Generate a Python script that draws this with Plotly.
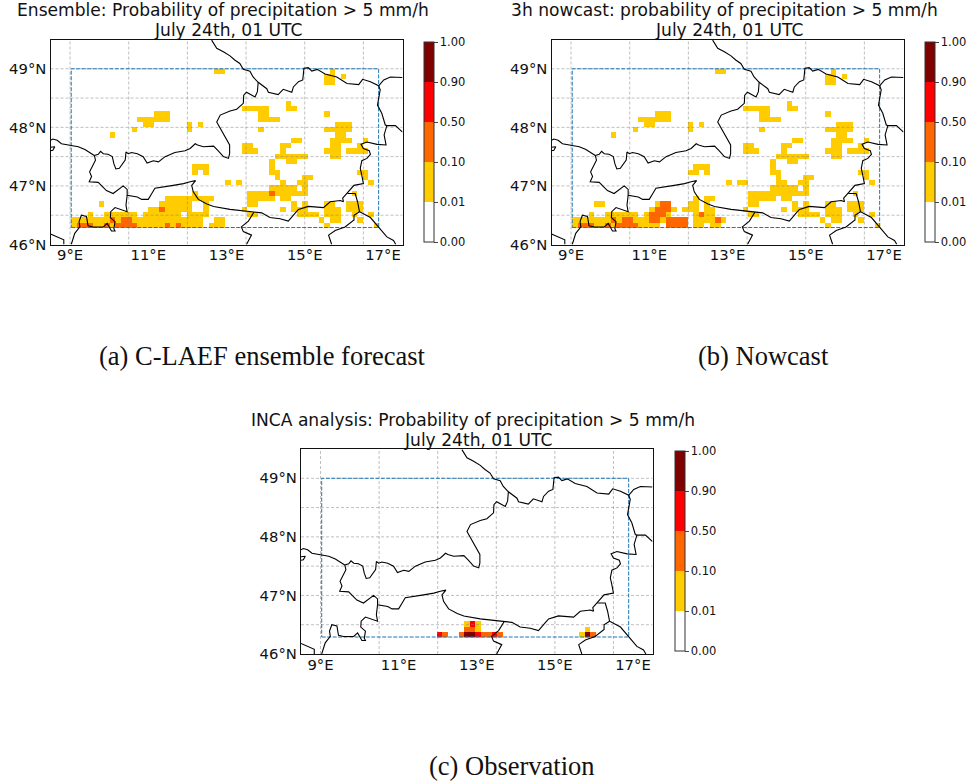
import numpy as np
import plotly.graph_objects as go

# --- colour classes -------------------------------------------------------
level_labels = ["0.00", "0.01", "0.10", "0.50", "0.90", "1.00"]
level_colors = ["#FFFFFF", "#FFCC00", "#FF6600", "#FF0000", "#800000"]

# --- grid of the forecast domain ------------------------------------------
n_rows, n_cols = 30, 56
lon0, dlon = 9.03, 0.1404
lat0, dlat = 46.29, 0.0903

# (row, first column, last column) of cells in each class
common_yellow = [
    (29,47,47),(28,46,47),(28,49,49),(27,46,47),(23,39,39),(22,31,35),(22,39,40),(21,34,35),(21,46,46),
    (20,34,37),(19,48,50),(18,34,34),(18,46,50),(17,48,49),(16,40,41),(16,47,50),(16,53,53),(15,31,32),
    (15,38,39),(15,47,48),(15,52,52),(14,31,33),(14,38,38),(14,46,48),(14,50,53),(13,37,42),(13,47,48),
    (12,36,36),(12,39,40),(11,36,36),(10,36,37),(10,52,53),(9,37,37),(9,42,43),(9,53,53),(8,41,42),
    (8,54,54),(7,36,40),(7,42,42),(6,32,42),(6,51,51),(5,32,36),(5,38,39),(4,32,33),(4,40,40),(4,42,42),
    (4,46,47),(4,50,52),(3,31,31),(3,38,38),(3,40,42),(3,46,48),(3,50,52),(2,32,33),(2,41,44),(2,46,48),
    (2,51,51),(2,54,54),(1,45,45),(1,47,48),(1,52,52),(0,46,46),(0,55,55),
    (29,26,27),(21,15,17),(20,12,17),(19,13,14),(19,21,21),(19,23,23),(18,11,11),(18,21,21),(17,7,7),
    (11,22,24),(8,28,28),(8,30,30),
]
ensemble_yellow = [
    (10,22,22),(10,24,24),(8,38,38),(6,22,22),(5,17,25),(4,5,5),(4,16,21),(4,24,24),(3,14,21),(3,24,24),
    (2,3,3),(2,6,11),(2,13,19),(2,21,24),(1,0,23),(1,26,27),(0,0,23),(0,25,27),
]
ensemble_orange = [(3,16,16),(6,36,36),(1,7,7),(1,9,10),(0,1,3),(0,6,6),(0,8,11),(0,17,17),(0,19,19)]
nowcast_yellow = [
    (10,21,22),(10,24,24),(8,31,31),(8,37,38),(5,22,22),(5,24,25),(4,4,5),(4,15,15),(4,21,22),(4,24,24),
    (3,14,14),(3,18,18),(3,20,22),(3,24,25),(2,3,3),(2,6,11),(2,13,13),(2,17,17),(2,22,25),(1,0,13),
    (1,16,16),(1,22,25),(1,27,27),(0,0,15),(0,22,23),(0,25,26),
]
nowcast_orange = [(4,16,17),(3,15,17),(2,14,16),(2,23,23),(1,7,7),(1,9,10),(1,14,15),(1,17,20),(1,26,26),
                  (0,1,3),(0,6,6),(0,8,11),(0,17,20)]
analysis_yellow = [(2,26,26),(2,28,28),(1,28,28),(0,47,47),(1,48,48)]
analysis_orange = [(0,22,22),(0,25,25),(1,26,27),(0,29,30),(0,32,32),(0,49,49)]
analysis_red = [(0,21,21),(0,28,28),(2,27,27),(0,31,31)]
analysis_dark = [(0,26,27),(0,48,48)]

# --- borders, lon/lat -----------------------------------------------------
border_north = [(12.62,49.49),(12.75,49.35),(12.92,49.29),(13.09,49.22),(13.21,49.15),(13.34,49.09),(13.43,48.99),
    (13.60,48.96),(13.68,48.86),(13.81,48.77),(14.03,48.66),(14.07,48.60),(14.32,48.56),(14.45,48.65),(14.67,48.60),
    (14.71,48.69),(14.84,48.78),(14.95,48.81),(14.98,49.01),(15.09,49.02),(15.18,48.96),(15.32,48.99),(15.52,48.91),
    (15.82,48.86),(16.08,48.75),(16.38,48.73),(16.48,48.82),(16.68,48.78),(16.89,48.71),(16.93,48.64),(16.89,48.49),
    (16.86,48.38),(16.97,48.24),(17.06,48.04),(17.10,48.03),(17.32,48.03),(17.5,47.92)]
border_czech_slovak = [(16.89,48.71),(17.02,48.81),(17.19,48.86),(17.5,48.85)]
border_east_south = [(17.10,48.03),(17.03,47.87),(17.08,47.70),(16.85,47.71),(16.59,47.75),(16.44,47.71),(16.50,47.64),
    (16.65,47.60),(16.68,47.54),(16.59,47.47),(16.46,47.43),(16.42,47.30),(16.46,47.18),(16.50,47.04),(16.26,47.01),
    (16.09,46.87),(15.97,46.79),(15.99,46.73),(15.91,46.75),(15.65,46.73),(15.48,46.63),(15.09,46.65),(14.84,46.60),
    (14.75,46.53),(14.58,46.40),(14.37,46.44),(14.11,46.46),(13.90,46.54),(13.60,46.56),(13.34,46.59),(13.09,46.60),
    (12.67,46.65),(12.5,46.69),(12.28,46.77),(12.15,46.90),(12.11,47.01),(12.21,47.09),(12.07,47.07),(11.90,47.04),
    (11.64,47.01),(11.38,46.98),(11.17,46.96),(11.09,46.87),(11.0,46.77),(10.83,46.77),(10.72,46.81),(10.46,46.84),
    (10.46,46.94),(10.36,47.0),(10.23,46.93),(10.10,46.87),(9.93,46.92),(9.85,46.98),(9.72,47.06),(9.49,47.07),
    (9.55,47.16),(9.50,47.24),(9.55,47.30),(9.65,47.44),(9.62,47.52)]
border_inn_salzach = [(9.62,47.52),(9.72,47.54),(9.78,47.59),(9.85,47.55),(9.97,47.54),(10.08,47.50),(10.12,47.38),
    (10.17,47.29),(10.26,47.30),(10.36,47.38),(10.41,47.44),(10.43,47.58),(10.49,47.55),(10.57,47.57),(10.72,47.55),
    (10.87,47.50),(10.97,47.39),(11.13,47.43),(11.26,47.41),(11.43,47.50),(11.56,47.54),(11.68,47.57),(11.94,47.60),
    (12.07,47.64),(12.2,47.72),(12.26,47.70),(12.41,47.67),(12.67,47.68),(12.79,47.60),(12.92,47.50),(13.05,47.47),
    (13.08,47.55),(13.08,47.70),(12.94,47.87),(12.75,48.09),(12.84,48.21),(13.09,48.28),(13.26,48.31),(13.43,48.41),
    (13.44,48.55),(13.51,48.60),(13.73,48.52),(13.79,48.61),(13.81,48.77)]
border_west = [(9.62,47.52),(9.55,47.55),(9.38,47.62),(9.21,47.67),(9.03,47.69),(8.91,47.70),(8.78,47.72),(8.67,47.78),(8.56,47.80),(8.5,47.78)]
border_lake = [(8.5,47.66),(8.61,47.67),(8.56,47.61),(8.5,47.60)]
border_italy_swiss = [(10.46,46.84),(10.43,46.67),(10.46,46.56),(10.32,46.59),(10.15,46.63),(10.04,46.56),(10.03,46.46),
    (10.15,46.39),(10.12,46.27),(10.15,46.23),(10.06,46.23),(9.95,46.36),(9.85,46.30),(9.59,46.30),(9.46,46.32),
    (9.42,46.48),(9.29,46.50),(9.23,46.39),(9.25,46.30),(9.12,46.19),(9.03,46.0)]
border_southwest = [(8.5,46.18),(8.69,46.12),(8.84,46.08),(8.84,46.0)]
border_hungary = [(16.09,46.87),(16.29,46.87),(16.35,46.73),(16.40,46.56),(16.68,46.46),(16.89,46.30),(17.10,46.13),(17.27,46.07),(17.33,46.0)]
border_croatia = [(16.40,46.56),(16.26,46.50),(16.26,46.42),(16.03,46.30),(15.78,46.24),(15.61,46.16),(15.69,46.0)]
border_slovenia = [(13.70,46.55),(13.56,46.40),(13.38,46.30),(13.43,46.22),(13.64,46.16),(13.51,46.0)]
borders = [border_north, border_czech_slovak, border_east_south, border_inn_salzach, border_west, border_lake,
           border_italy_swiss, border_southwest, border_hungary, border_croatia, border_slovenia]

# --- axes content ---------------------------------------------------------
lon_ticks = [9, 11, 13, 15, 17]
lat_ticks = [46, 47, 48, 49]
lon_grid = [9, 10.5, 12, 13.5, 15, 16.5]
lat_grid = [46.5, 47, 47.5, 48, 48.5, 49]
lon_box = [9.03, 16.89, 16.89, 9.03, 9.03]
lat_box = [46.29, 46.29, 49.0, 49.0, 46.29]

title_lines = ["Ensemble: Probability of precipitation > 5 mm/h",
               "3h nowcast: probability of precipitation > 5 mm/h",
               "INCA analysis: Probability of precipitation > 5 mm/h"]
subtitle = "July 24th, 01 UTC"
captions = ["(a) C-LAEF ensemble forecast", "(b) Nowcast", "(c) Observation"]

W, H = 971, 784
panels = [
    dict(left=50.5, right=402.5, top=39.5, bottom=244.5, cbx=424, cby=42, cap=(262, 356)),
    dict(left=551.5, right=903.5, top=39.5, bottom=244.5, cbx=925, cby=42, cap=(763, 356)),
    dict(left=301, right=652.5, top=449, bottom=654, cbx=674.5, cby=451, cap=(512, 766)),
]

def paint(*class_runs):
    z = np.full((n_rows, n_cols), np.nan)
    for level, runs in class_runs:
        for row, first, last in runs:
            z[row, first:last + 1] = level + 0.5
    return z

fields = [
    paint((1, common_yellow), (1, ensemble_yellow), (2, ensemble_orange)),
    paint((1, common_yellow), (1, nowcast_yellow), (2, nowcast_orange)),
    paint((1, analysis_yellow), (2, analysis_orange), (3, analysis_red), (4, analysis_dark)),
]

stops = []
for i, c in enumerate(level_colors):
    stops += [[i / 5, c], [(i + 1) / 5, c]]

lons = lon0 + (np.arange(n_cols) + 0.5) * dlon
lats = lat0 + (np.arange(n_rows) + 0.5) * dlat

fig = go.Figure()
annotations = []
for i, (p, z) in enumerate(zip(panels, fields)):
    ax = "" if i == 0 else str(i + 1)
    xa, ya = f"x{ax}", f"y{ax}"
    fig.add_trace(go.Heatmap(
        x=lons, y=lats, z=z, xaxis=xa, yaxis=ya, zmin=0, zmax=5, colorscale=stops, hoverongaps=False,
        colorbar=dict(x=p["cbx"] / W, xanchor="left", y=1 - p["cby"] / H, yanchor="top", len=200, lenmode="pixels",
                      thickness=10, thicknessmode="pixels", xpad=0, ypad=0, outlinewidth=1, outlinecolor="#333",
                      tickmode="array", tickvals=list(range(6)), ticktext=level_labels, ticks="outside",
                      ticklen=3.5, tickwidth=1, tickfont=dict(family="DejaVu Sans", size=11.5, color="#111")),
    ))
    gx, gy = [], []
    for g in lon_grid:
        gx += [g, g, None]; gy += [46, 49.5, None]
    for g in lat_grid:
        gx += [8.5, 17.5, None]; gy += [g, g, None]
    fig.add_trace(go.Scatter(x=gx, y=gy, xaxis=xa, yaxis=ya, mode="lines", showlegend=False, hoverinfo="skip",
                             line=dict(color="rgba(128,128,128,0.5)", width=1, dash="3px,2px")))
    fig.add_trace(go.Scatter(x=lon_box, y=lat_box, xaxis=xa, yaxis=ya, mode="lines", showlegend=False, hoverinfo="skip",
                             line=dict(color="#1f77b4", width=1, dash="4px,1.5px")))
    for b in borders:
        fig.add_trace(go.Scatter(x=[q[0] for q in b], y=[q[1] for q in b], xaxis=xa, yaxis=ya, mode="lines",
                                 showlegend=False, hoverinfo="skip", line=dict(color="black", width=1.1)))
    fig.update_layout({
        f"xaxis{ax}": dict(domain=[p["left"] / W, p["right"] / W], range=[8.5, 17.5], anchor=ya,
                           tickmode="array", tickvals=lon_ticks, ticktext=[f"{v}°E" for v in lon_ticks],
                           ticklabelstandoff=-3,
                           showgrid=False, zeroline=False, ticks="", mirror=True, showline=True, linecolor="#111", linewidth=1.3,
                           tickfont=dict(family="DejaVu Sans", size=14.8, color="#111")),
        f"yaxis{ax}": dict(domain=[1 - p["bottom"] / H, 1 - p["top"] / H], range=[46, 49.5], anchor=xa,
                           tickmode="array", tickvals=lat_ticks, ticktext=[f"{v}°N" for v in lat_ticks],
                           showgrid=False, zeroline=False, ticks="", mirror=True, showline=True, linecolor="#111", linewidth=1.3,
                           tickfont=dict(family="DejaVu Sans", size=14.8, color="#111")),
    })
    cx = (p["left"] + p["right"]) / 2
    for text, dy, shift in ((title_lines[i], -29, -3.5), (subtitle, -9.5, 1.2)):
        annotations.append(dict(x=(cx + shift) / W, y=1 - (p["top"] + dy) / H, xref="paper", yref="paper", showarrow=False,
                                text=text, xanchor="center", yanchor="middle",
                                font=dict(family="DejaVu Sans", size=17.1, color="#111")))
    annotations.append(dict(x=p["cap"][0] / W, y=1 - p["cap"][1] / H, xref="paper", yref="paper", showarrow=False,
                            text=captions[i], xanchor="center", yanchor="middle",
                            font=dict(family="Liberation Serif", size=26.5, color="#111")))

fig.update_layout(width=W, height=H, autosize=False, margin=dict(l=0, r=0, t=0, b=0, autoexpand=False), paper_bgcolor="white",
                  plot_bgcolor="white", showlegend=False, annotations=annotations)
fig.write_html("out.html", config=dict(displayModeBar=False), post_script="document.body.style.margin='0';")
